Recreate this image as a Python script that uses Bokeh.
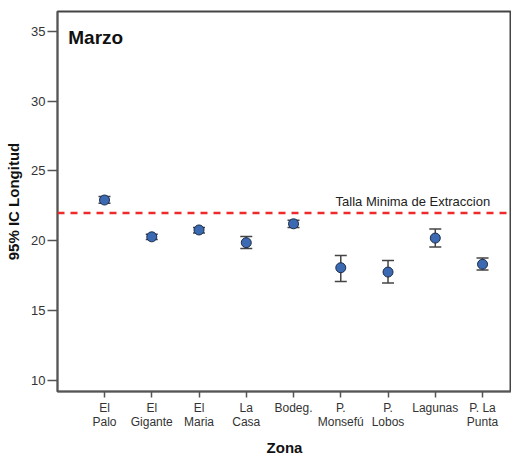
from bokeh.plotting import figure
from bokeh.models import (Range1d, FixedTicker, Span, Label, Whisker, ColumnDataSource, TeeHead)
from bokeh.embed import file_html
from bokeh.resources import INLINE

# ---- data ----
categories = ["El\nPalo", "El\nGigante", "El\nMaria", "La\nCasa", "Bodeg.",
              "P.\nMonsefú", "P.\nLobos", "Lagunas", "P. La\nPunta"]
means = [22.92, 20.29, 20.78, 19.87, 21.22, 18.08, 17.77, 20.20, 18.33]
ci_upper = [23.18, 20.48, 20.96, 20.31, 21.47, 18.96, 18.59, 20.85, 18.78]
ci_lower = [22.69, 20.10, 20.57, 19.45, 20.96, 17.10, 16.98, 19.57, 17.91]
y_ticks = [10, 15, 20, 25, 30, 35]
min_size = 22.0
title_text = "Marzo"
ref_text = "Talla Minima de Extraccion"
y_title = "95% IC Longitud"
x_title = "Zona"

positions = list(range(1, len(categories) + 1))
src = ColumnDataSource(dict(x=positions, mean=means, upper=ci_upper, lower=ci_lower))

X0, X1 = 0.005, 9.613
Y0, Y1 = 9.23, 36.4
FONT = "Liberation Sans"
p = figure(width=511, height=458, output_backend="svg", toolbar_location=None,
           x_range=Range1d(X0, X1), y_range=Range1d(Y0, Y1),
           min_border_left=57, min_border_top=11, min_border_right=0, min_border_bottom=58)
p.outline_line_color = "#444444"
p.outline_line_width = 2
p.xgrid.visible = False
p.ygrid.visible = False
p.background_fill_color = "white"
p.border_fill_color = "white"

axcol = "#555555"
# y axis
p.yaxis.ticker = FixedTicker(ticks=y_ticks)
p.yaxis.axis_label = y_title
p.yaxis.axis_label_text_font = FONT
p.yaxis.axis_label_text_font_style = "bold"
p.yaxis.axis_label_text_font_size = "15px"
p.yaxis.axis_label_text_color = "#111111"
p.yaxis.axis_label_standoff = 6
p.yaxis.major_label_text_font = FONT
p.yaxis.major_label_text_font_size = "13px"
p.yaxis.major_label_text_color = "#333333"
p.yaxis.major_label_standoff = 2
p.yaxis.major_tick_out = 10
p.yaxis.major_tick_in = 0
p.yaxis.minor_tick_line_color = None
p.yaxis.axis_line_color = axcol
p.yaxis.axis_line_width = 1.5
p.yaxis.major_tick_line_color = axcol
p.yaxis.major_tick_line_width = 1.5

# x axis
p.xaxis.ticker = FixedTicker(ticks=positions)
p.xaxis.major_label_overrides = {pos: lab for pos, lab in zip(positions, categories)}
p.xaxis.axis_label = x_title
p.xaxis.axis_label_text_font = FONT
p.xaxis.axis_label_text_font_style = "bold"
p.xaxis.axis_label_text_font_size = "15px"
p.xaxis.axis_label_text_color = "#111111"
p.xaxis.axis_label_standoff = 7
p.xaxis.major_label_text_font = FONT
p.xaxis.major_label_text_font_size = "12px"
p.xaxis.major_label_text_color = "#333333"
p.xaxis.major_label_text_line_height = 1.0
p.xaxis.major_label_standoff = 3
p.xaxis.major_tick_out = 6
p.xaxis.major_tick_in = 0
p.xaxis.minor_tick_line_color = None
p.xaxis.axis_line_color = axcol
p.xaxis.axis_line_width = 1.5
p.xaxis.major_tick_line_color = axcol
p.xaxis.major_tick_line_width = 1.5

# reference line
p.add_layout(Span(location=min_size, dimension="width", line_color="#ee2b2b",
                  line_dash="7 6", line_width=2.5))
p.add_layout(Label(x=5.89, y=22.8, text=ref_text, text_font=FONT, text_font_size="13px",
                   text_color="#222222", text_baseline="middle", text_align="left"))
p.add_layout(Label(x=0.233, y=34.51, text=title_text, text_font=FONT, text_font_size="19px",
                   text_font_style="bold", text_color="#111111", text_baseline="middle",
                   text_align="left"))

# error bars
wc = "#444444"
p.add_layout(Whisker(source=src, base="x", upper="upper", lower="lower", dimension="height",
                     line_color=wc, line_width=1.5,
                     upper_head=TeeHead(size=12, line_color=wc, line_width=1.5),
                     lower_head=TeeHead(size=12, line_color=wc, line_width=1.5)))

p.scatter("x", "mean", source=src, size=10, marker="circle", fill_color="#3b6ab3",
          line_color="#1c2c48", line_width=1)

open("out.html", "w").write(file_html(p, INLINE))
